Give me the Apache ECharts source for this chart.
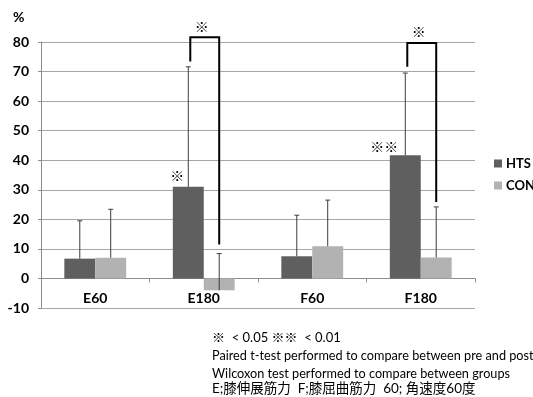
<!DOCTYPE html>
<html><head><meta charset="utf-8">
<script src="https://cdn.jsdelivr.net/npm/echarts@6/dist/echarts.min.js"></script>
<style>html,body{margin:0;padding:0;background:#fff}#c{width:533px;height:397px}</style>
</head><body><div id="c"></div>
<script>
var categories = ['E60', 'E180', 'F60', 'F180'];
var seriesNames = ['HTS', 'CON'];
var htsValues = [6.7, 31.0, 7.5, 41.7];
var conValues = [7.0, -4.0, 10.9, 7.1];
var htsErrors = [12.8, 40.6, 13.9, 27.8];
var conErrors = [16.4, 12.4, 15.6, 17.1];
var yTicks = [-10, 0, 10, 20, 30, 40, 50, 60, 70, 80];
// brackets: [categoryIndex, leftLegBottom, top, rightLegBottom]
var brackets = [[1, 73.4, 81.6, 11.5], [3, 71.6, 79.7, 25.9]];
// significance marks: [categoryIndex, value, text, anchor]
var sigMarks = [[1, 34.8, '※', 'hts'], [1, 85.3, '※', 'mid'], [3, 44.7, '※※', 'hts'], [3, 83.4, '※', 'mid']];
var noteLines = [
  '※  < 0.05 ※※  < 0.01',
  'Paired t-test performed to compare between pre and post',
  'Wilcoxon test performed to compare between groups',
  'E;膝伸展筋力  F;膝屈曲筋力  60; 角速度60度'
];

var HTS_COLOR = '#5f5f5f', CON_COLOR = '#b2b2b2';
var CAT_GAP = 0.43;
var FONT = 'Lato, "Noto Sans CJK JP", sans-serif';

function barCenters(api, idx) {
  var cx = api.coord([idx, 0])[0];
  var band = api.size([1, 0])[0];
  var bw = band * (1 - CAT_GAP) / 2;
  return {hts: cx - bw / 2, con: cx + bw / 2, mid: cx, bw: bw};
}

function errorItem(values, errors, which) {
  return {
    type: 'custom',
    z: 5,
    silent: true,
    data: categories.map(function (c, i) { return [i, values[i], errors[i]]; }),
    renderItem: function (params, api) {
      var idx = api.value(0), v = api.value(1), e = api.value(2);
      var x = barCenters(api, idx)[which];
      var p0 = api.coord([idx, v]), p1 = api.coord([idx, v + e]);
      var style = {stroke: '#3c3c3c', lineWidth: 1};
      return {type: 'group', children: [
        {type: 'line', shape: {x1: x, y1: p0[1], x2: x, y2: p1[1]}, style: style},
        {type: 'line', shape: {x1: x - 2.5, y1: p1[1], x2: x + 2.5, y2: p1[1]}, style: style}
      ]};
    }
  };
}

var chart = echarts.init(document.getElementById('c'), null, {renderer: 'canvas'});
chart.setOption({
  animation: false,
  backgroundColor: '#fff',
  grid: {left: 41, right: 58, top: 42, bottom: 89, containLabel: false},
  legend: {
    orient: 'vertical', left: 489, top: 152,
    itemWidth: 8, itemHeight: 8, itemGap: 9, icon: 'rect',
    textStyle: {fontFamily: FONT, fontWeight: 'bold', fontSize: 13, color: '#000', padding: [0, 0, 0, -1]},
    data: seriesNames
  },
  xAxis: [{
    type: 'category', data: categories,
    axisLine: {onZero: true, lineStyle: {color: '#8c8c8c', width: 1}},
    axisTick: {show: true, alignWithLabel: false, length: 4, lineStyle: {color: '#8c8c8c'}},
    axisLabel: {show: false},
    splitLine: {show: false}
  }, {
    type: 'category', data: categories, position: 'bottom',
    axisLine: {show: false, onZero: false},
    axisTick: {show: false},
    axisLabel: {fontFamily: FONT, fontWeight: 'bold', fontSize: 14, color: '#000', margin: -17},
    splitLine: {show: false}
  }],
  yAxis: {
    type: 'value', min: yTicks[0], max: yTicks[yTicks.length - 1], interval: 10,
    axisLine: {show: true, lineStyle: {color: '#8c8c8c'}},
    axisTick: {show: true, length: 3, lineStyle: {color: '#8c8c8c'}},
    axisLabel: {fontFamily: FONT, fontWeight: 'bold', fontSize: 14, color: '#000', margin: 12},
    splitLine: {show: true, lineStyle: {color: '#a6a6a6', width: 1}}
  },
  series: [
    {name: 'HTS', type: 'bar', data: htsValues, barGap: '0%', barCategoryGap: (CAT_GAP * 100) + '%',
     itemStyle: {color: HTS_COLOR}},
    {name: 'CON', type: 'bar', data: conValues, barGap: '0%', barCategoryGap: (CAT_GAP * 100) + '%',
     itemStyle: {color: CON_COLOR}},
    errorItem(htsValues, htsErrors, 'hts'),
    errorItem(conValues, conErrors, 'con'),
    {
      type: 'custom', z: 6, silent: true,
      data: brackets,
      renderItem: function (params, api) {
        var idx = api.value(0);
        var c = barCenters(api, idx);
        var xl = c.hts + 2, xr = c.con;
        var yl = api.coord([idx, api.value(1)])[1];
        var yt = api.coord([idx, api.value(2)])[1];
        var yr = api.coord([idx, api.value(3)])[1];
        return {type: 'polyline', shape: {points: [[xl, yl], [xl, yt], [xr, yt], [xr, yr]]},
                style: {stroke: '#000', lineWidth: 2, fill: null}};
      }
    },
    {
      type: 'custom', z: 7, silent: true,
      data: sigMarks,
      renderItem: function (params, api) {
        var d = sigMarks[params.dataIndex];
        var c = barCenters(api, d[0]);
        var x = d[3] === 'hts' ? c.hts - (d[2].length === 1 ? 11 : 21) : c.mid - 2;
        var y = api.coord([d[0], d[1]])[1];
        return {type: 'text', x: x, y: y,
                style: {text: d[2], fontFamily: '"Noto Sans CJK JP", sans-serif', fontSize: 14,
                        fill: '#000', align: 'center', verticalAlign: 'middle'}};
      }
    }
  ],
  graphic: [
    {type: 'text', left: 13, top: 10, style: {text: '%', fontFamily: FONT, fontWeight: 'bold', fontSize: 14, fill: '#000'}}
  ].concat(noteLines.map(function (t, i) {
    return {type: 'text', left: 212, top: [331, 350, 368, 382][i],
            style: {text: t, fontFamily: FONT, fontSize: [13, 12.7, 12.7, 13.5][i], fill: '#000'}};
  }))
});
</script></body></html>
